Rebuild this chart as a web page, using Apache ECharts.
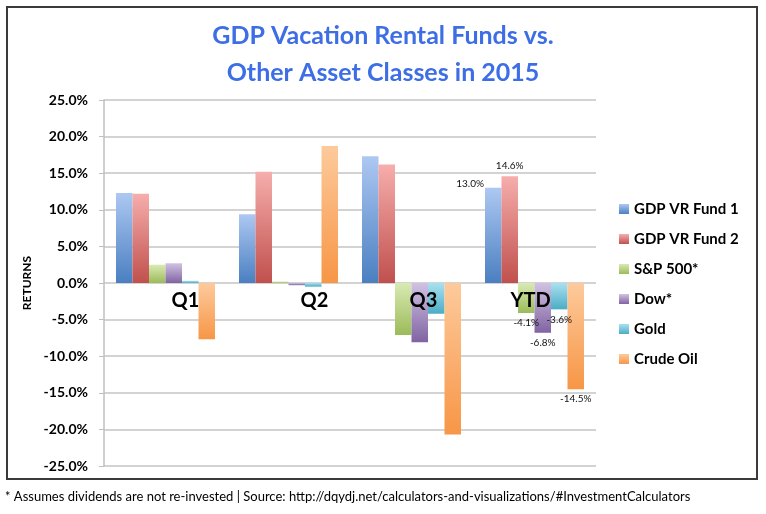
<!DOCTYPE html>
<html>
<head>
<meta charset="utf-8">
<script src="https://cdn.jsdelivr.net/npm/echarts@6/dist/echarts.min.js"></script>
<style>
  html, body { margin: 0; padding: 0; background: #fff; }
  #chart { width: 766px; height: 514px; }
</style>
</head>
<body>
<div id="chart"></div>
<script>
  // data (percent returns)
  var categories = ['Q1', 'Q2', 'Q3', 'YTD'];
  var fund1 = [12.3, 9.4, 17.3, 13.0];
  var fund2 = [12.2, 15.2, 16.2, 14.6];
  var sp500 = [2.5, 0.2, -7.1, -4.1];
  var dow = [2.7, -0.3, -8.1, -6.8];
  var gold = [0.3, -0.5, -4.2, -3.6];
  var crude = [-7.7, 18.7, -20.7, -14.5];
  var yTicks = [-25, 25, 5]; // min, max, step

  var font = 'Lato, "Liberation Sans", sans-serif';

  function grad(top, bottom) {
    return new echarts.graphic.LinearGradient(0, 0, 0, 1, [
      { offset: 0, color: top },
      { offset: 1, color: bottom }
    ]);
  }

  var fmt = function (p) { return p.value.toFixed(1) + '%'; };

  // only the YTD bars carry value labels
  function ytdLabels(arr, pos, align) {
    return arr.map(function (v, i) {
      if (i !== 3) return v;
      return {
        value: v,
        label: {
          show: true, position: pos, align: align || 'center',
          formatter: fmt, fontSize: 10, fontFamily: font, color: '#111'
        }
      };
    });
  }

  // the original nudges the quarter names off-centre a little
  var labelNudge = { Q1: 20, Q2: 26, Q3: 12, YTD: -4 };
  var catRich = {};
  categories.forEach(function (c) {
    var n = labelNudge[c] || 0;
    catRich[c] = {
      fontSize: 20, fontWeight: 'bold', fontFamily: font, color: '#000',
      padding: n > 0 ? [0, 0, 0, 2 * n] : [0, -2 * n, 0, 0]
    };
  });

  var myChart = echarts.init(document.getElementById('chart'));
  var option = {
    backgroundColor: '#fff',
    animation: false,
    title: {
      text: 'GDP Vacation Rental Funds vs.\nOther Asset Classes in 2015',
      left: 'center',
      top: 12,
      textStyle: {
        color: '#3d6ee6', fontSize: 25, fontWeight: 'bold',
        fontFamily: font, lineHeight: 37
      }
    },
    legend: {
      orient: 'vertical',
      left: 614,
      top: 195,
      itemWidth: 10,
      itemHeight: 10,
      itemGap: 12,
      icon: 'rect',
      selectedMode: false,
      textStyle: { fontSize: 15, fontWeight: 'bold', fontFamily: font, color: '#000', lineHeight: 18 }
    },
    grid: { left: 104, right: 170, top: 100, bottom: 48 },
    xAxis: {
      type: 'category',
      data: categories,
      z: 5,
      // category labels sit just under the zero line, as in the original
      offset: -183,
      axisLine: { show: false, onZero: false },
      axisTick: { show: false },
      axisLabel: {
        margin: 8,
        formatter: function (v) { return '{' + v + '|' + v + '}'; },
        rich: catRich
      }
    },
    yAxis: {
      type: 'value',
      min: yTicks[0],
      max: yTicks[1],
      interval: yTicks[2],
      name: 'RETURNS',
      nameLocation: 'middle',
      nameRotate: 90,
      nameGap: 60,
      nameTextStyle: { fontSize: 12, fontWeight: 'bold', fontFamily: font, color: '#000' },
      axisLine: { show: true, lineStyle: { color: '#bfbfbf', width: 1.5 } },
      axisTick: { show: true, length: 5, lineStyle: { color: '#bfbfbf' } },
      splitLine: { lineStyle: { color: '#c4c4c4', width: 1.5 } },
      axisLabel: {
        margin: 16, fontSize: 14, fontWeight: 'bold', fontFamily: font, color: '#000',
        formatter: function (v) { return v.toFixed(1) + '%'; }
      }
    },
    series: [
      {
        name: 'GDP VR Fund 1', type: 'bar', barGap: '0%', barCategoryGap: '19.5%',
        itemStyle: { color: grad('#adc8f2', '#4a7fc1') },
        data: ytdLabels(fund1, [-1, -9], 'right')
      },
      {
        name: 'GDP VR Fund 2', type: 'bar',
        itemStyle: { color: grad('#f6aeac', '#c0504d') },
        data: ytdLabels(fund2, 'top')
      },
      {
        name: 'S&P 500*', type: 'bar',
        itemStyle: { color: grad('#d9eab3', '#9bbb59') },
        data: ytdLabels(sp500, 'bottom')
      },
      {
        name: 'Dow*', type: 'bar',
        itemStyle: { color: grad('#d0c2e3', '#8064a2') },
        data: ytdLabels(dow, 'bottom')
      },
      {
        name: 'Gold', type: 'bar',
        itemStyle: { color: grad('#a9e1f0', '#4bacc6') },
        data: ytdLabels(gold, 'bottom')
      },
      {
        name: 'Crude Oil', type: 'bar',
        itemStyle: { color: grad('#fdca9c', '#f79646') },
        data: ytdLabels(crude, 'bottom')
      }
    ],
    graphic: [
      {
        type: 'rect', z: -1, silent: true,
        shape: { x: 7, y: 7, width: 750, height: 472 },
        style: { fill: 'none', stroke: '#3a3a3a', lineWidth: 2 }
      },
      {
        type: 'text', left: 5, top: 490, silent: true,
        style: {
          text: '* Assumes dividends are not re-invested | Source: http://dqydj.net/calculators-and-visualizations/#InvestmentCalculators',
          fontSize: 13, fontFamily: font, fill: '#000'
        }
      }
    ]
  };
  myChart.setOption(option);
</script>
</body>
</html>
